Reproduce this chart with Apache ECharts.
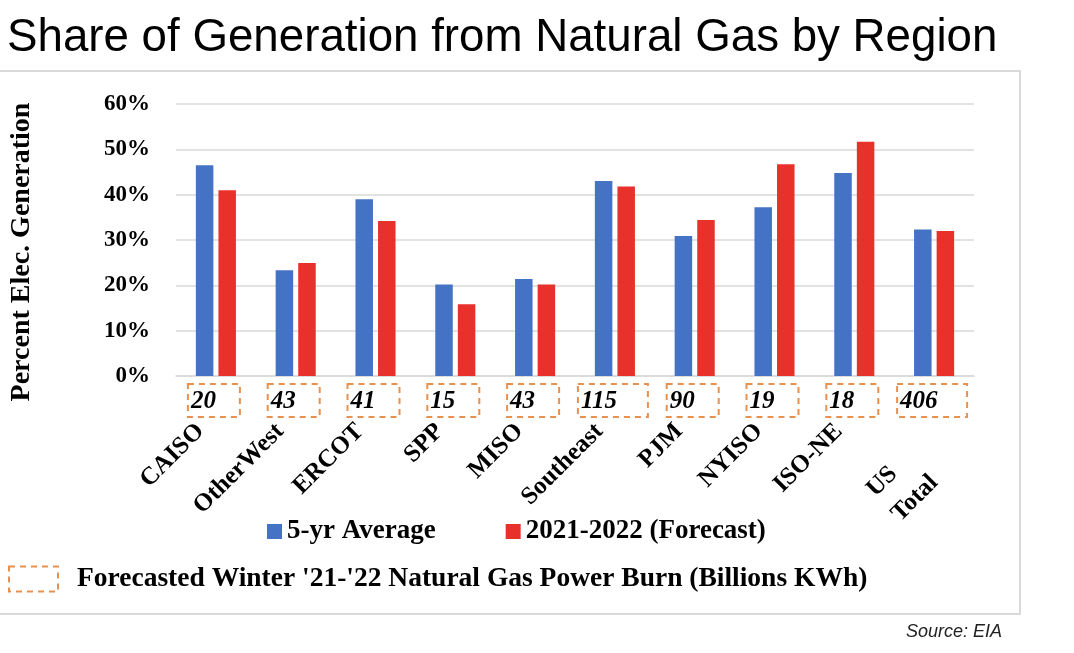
<!DOCTYPE html>
<html>
<head>
<meta charset="utf-8">
<style>html,body{margin:0;padding:0;background:#fff;}#c{width:1074px;height:653px;}</style>
<script src="https://cdn.jsdelivr.net/npm/echarts@6/dist/echarts.min.js"></script>
</head>
<body>
<div id="c"></div>
<script>
var categories = ['CAISO', 'OtherWest', 'ERCOT', 'SPP', 'MISO', 'Southeast', 'PJM', 'NYISO', 'ISO-NE', 'US\nTotal'];
var avg5yr = [0.465, 0.233, 0.390, 0.202, 0.214, 0.430, 0.309, 0.372, 0.448, 0.323];
var forecast = [0.410, 0.249, 0.342, 0.158, 0.202, 0.418, 0.344, 0.467, 0.517, 0.320];
var powerBurn = [20, 43, 41, 15, 43, 115, 90, 19, 18, 406];
var yTicks = [0, 0.1, 0.2, 0.3, 0.4, 0.5, 0.6];

var SERIF = '"Liberation Serif", "Times New Roman", serif';
var BURN_NAME = "Forecasted Winter '21-'22 Natural Gas Power Burn (Billions KWh)";
var ORANGE = '#E8914F';

var chart = echarts.init(document.getElementById('c'));
chart.setOption({
  animation: false,
  backgroundColor: '#fff',
  grid: { left: 176, right: 100, top: 104, bottom: 277, containLabel: false },
  xAxis: {
    type: 'category',
    data: categories,
    axisLine: { lineStyle: { color: '#d9d9d9', width: 1.5 } },
    axisTick: { show: false },
    axisLabel: {
      interval: 0, rotate: 45, margin: 36,
      fontFamily: SERIF, fontWeight: 'bold', fontSize: 25, color: '#000',
      lineHeight: 25, padding: [0, 22, 0, 0],
      formatter: function (v) {
        if (v.indexOf('\n') < 0) { return v; }
        return '{sp| }\n' + v.split('\n').map(function (s) { return '{m|' + s + '}'; }).join('\n');
      },
      rich: {
        sp: { height: 60, lineHeight: 60, fontSize: 10 },
        m: { width: 80, align: 'left', lineHeight: 35, fontFamily: SERIF, fontWeight: 'bold', fontSize: 25, color: '#000' }
      }
    }
  },
  yAxis: {
    type: 'value', min: yTicks[0], max: yTicks[yTicks.length - 1], interval: 0.1,
    axisLine: { show: false }, axisTick: { show: false },
    splitLine: { lineStyle: { color: '#d9d9d9', width: 1.5 } },
    axisLabel: {
      margin: 26, fontFamily: SERIF, fontWeight: 'bold', fontSize: 23, color: '#000',
      formatter: function (v) { return Math.round(v * 100) + '%'; }
    }
  },
  legend: [{
    data: ['5-yr Average', '2021-2022 (Forecast)'],
    left: 262, top: 513, icon: 'rect', itemWidth: 15, itemHeight: 15, itemGap: 70,
    textStyle: { fontFamily: SERIF, fontWeight: 'bold', fontSize: 27, color: '#000' }
  }, {
    data: [{ name: BURN_NAME, icon: 'rect',
      itemStyle: { color: 'rgba(0,0,0,0)', borderColor: ORANGE, borderWidth: 2, borderType: [6, 5] } }],
    left: 3, top: 560, itemWidth: 49, itemHeight: 25,
    textStyle: { fontFamily: SERIF, fontWeight: 'bold', fontSize: 27.5, color: '#000', padding: [0, 0, 0, 14] }
  }],
  series: [{
    name: '5-yr Average', type: 'bar', data: avg5yr, barWidth: 17.5, barGap: '29%',
    itemStyle: { color: '#4472C4' }
  }, {
    name: '2021-2022 (Forecast)', type: 'bar', data: forecast, barWidth: 17.5, barGap: '29%',
    itemStyle: { color: '#E8312A' }
  }, {
    name: BURN_NAME, type: 'custom',
    itemStyle: { color: ORANGE },
    data: powerBurn.map(function (v, i) { return [i, 0, v]; }),
    encode: { x: 0, y: 1 },
    renderItem: function (params, api) {
      var base = api.coord([api.value(0), 0]);
      var txt = String(api.value(2));
      var w = txt.length < 3 ? 52 : 70;
      var h = 33;
      var x = base[0] - w / 2 - 2;
      var y = base[1] + 8;
      return { type: 'group', children: [
        { type: 'rect', shape: { x: x, y: y, width: w, height: h },
          style: { fill: 'none', stroke: ORANGE, lineWidth: 2, lineDash: [6, 5] } },
        { type: 'text', style: { text: txt, x: x + 3, y: y + h / 2 + 1, align: 'left', verticalAlign: 'middle',
          font: 'italic 600 25px ' + SERIF, fill: '#000' } }
      ] };
    }
  }],
  graphic: [
    { type: 'rect', shape: { x: -2, y: 71, width: 1022, height: 543 }, silent: true, z: -10,
      style: { fill: 'none', stroke: '#d9d9d9', lineWidth: 2 } },
    { type: 'text', left: 7, top: 15,
      style: { text: 'Share of Generation from Natural Gas by Region', font: '45.7px "Liberation Sans", Arial, sans-serif', fill: '#000' } },
    { type: 'text', x: 22, y: 252, rotation: Math.PI / 2,
      style: { text: 'Percent Elec. Generation', font: 'bold 28px ' + SERIF, fill: '#000', align: 'center', verticalAlign: 'middle' } },
    { type: 'text', right: 72, top: 623,
      style: { text: 'Source: EIA', font: 'italic 18px "Liberation Sans", Arial, sans-serif', fill: '#222' } }
  ]
});
</script>
</body>
</html>
